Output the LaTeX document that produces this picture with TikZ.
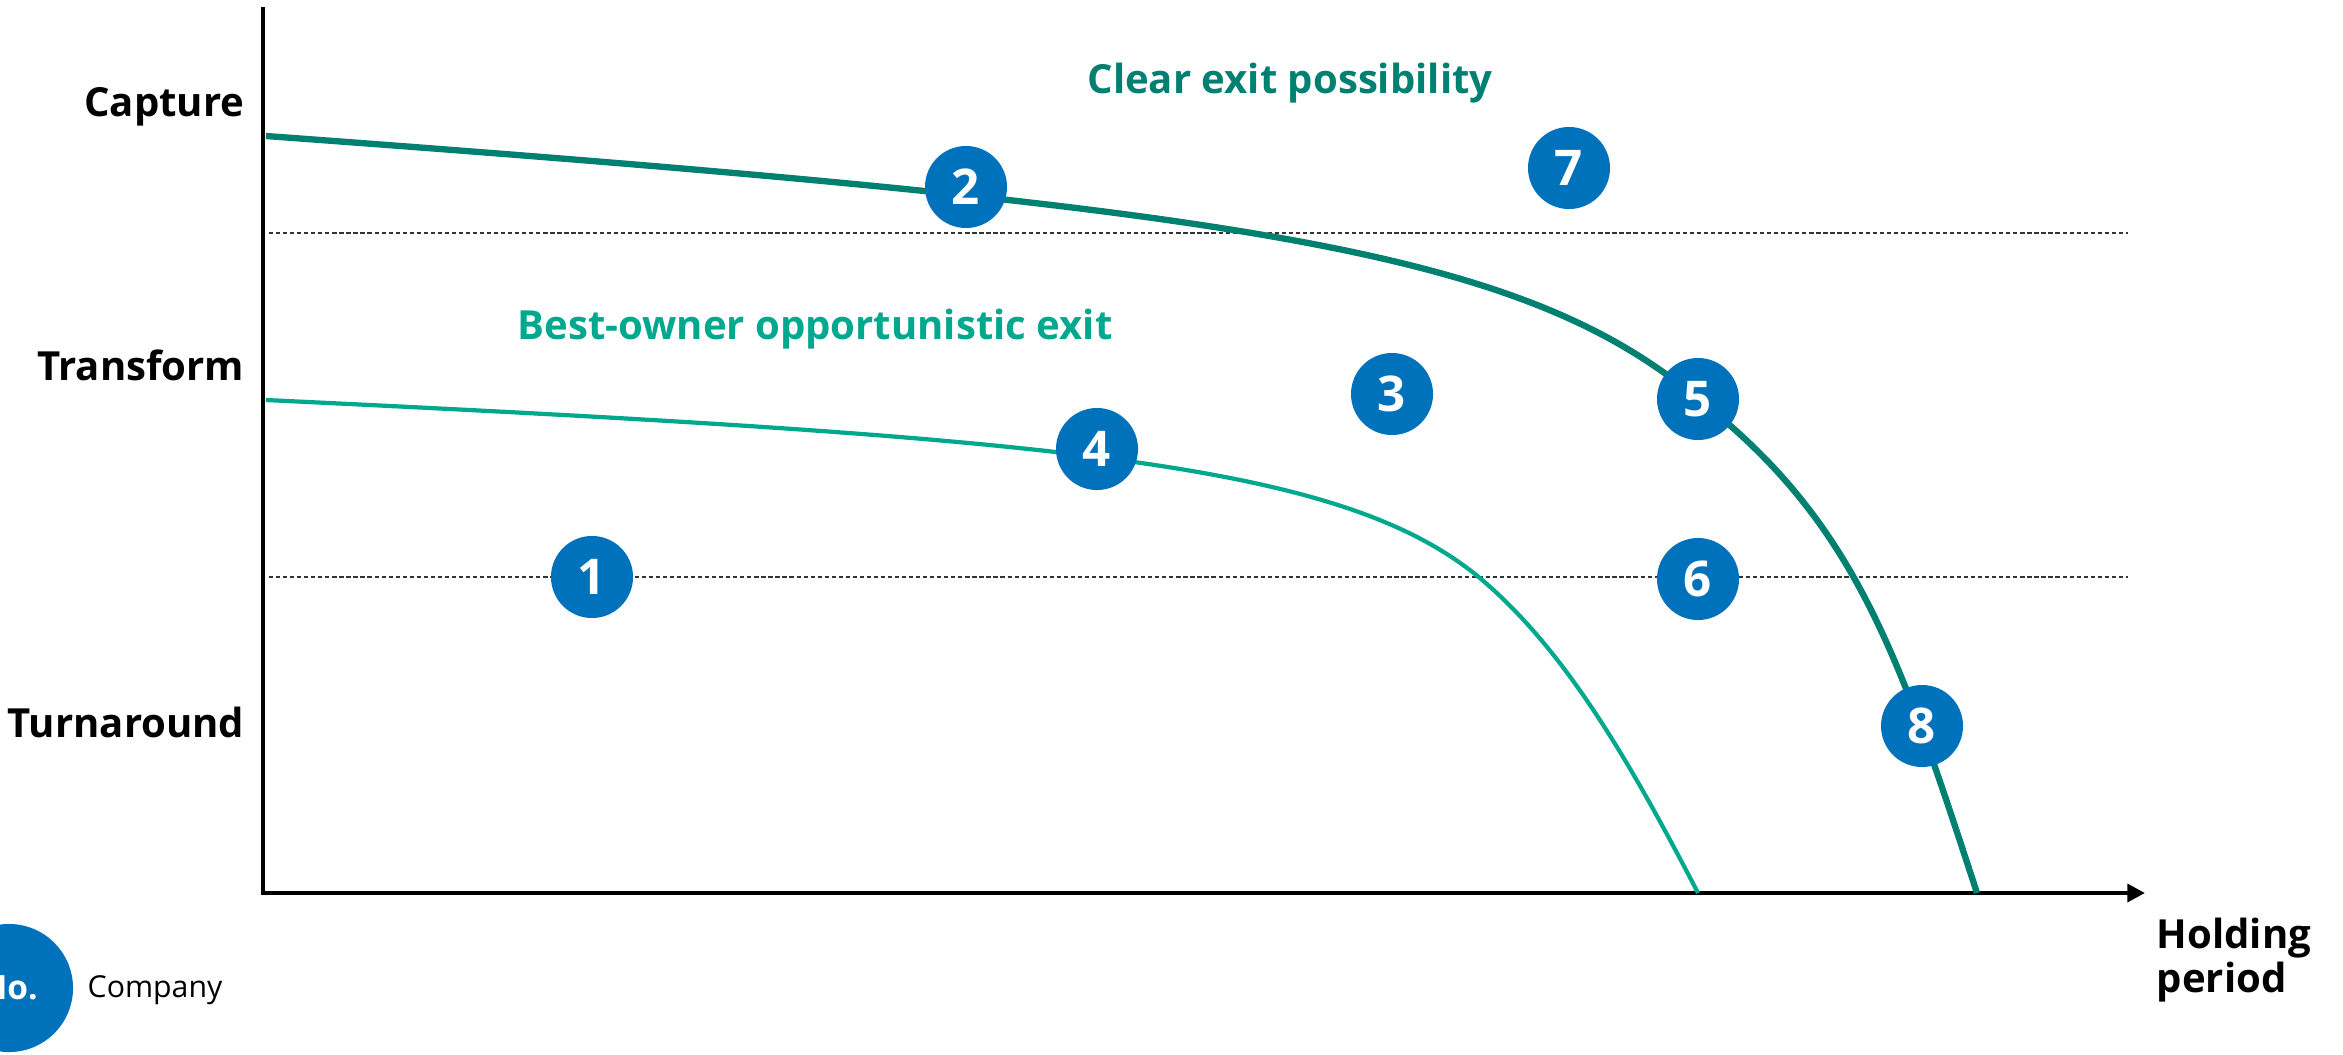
\documentclass[tikz,border=0pt]{standalone}
\usepackage{fontspec}
\setmainfont{Open Sans}
\usetikzlibrary{arrows.meta}
\usetikzlibrary{positioning}

\definecolor{numblue}{RGB}{0,114,188}
\definecolor{darkteal}{RGB}{0,128,112}
\definecolor{lightteal}{RGB}{0,168,142}

\begin{document}
\begin{tikzpicture}[x=0.01cm,y=-0.01cm,
  num node/.style={circle,fill=numblue,text=white,minimum size=0.82cm,inner sep=0pt,
    font=\fontsize{14}{16}\selectfont\bfseries},
  axis label/.style={inner sep=0pt,font=\fontsize{11.4}{14}\selectfont\bfseries},
  zone label/.style={inner sep=0pt,anchor=base,font=\fontsize{11.4}{14}\selectfont\bfseries},
  guide/.style={dash pattern=on 1.2pt off 0.8pt,line width=0.45pt,black!80}]
  \useasboundingbox (0,0) rectangle (2343,1054);

  % axes
  \coordinate (top) at (263,7);
  \coordinate (origin) at (263,893);
  \coordinate (xend) at (2145,893);
  \draw[line width=1.4pt,-{Triangle[length=5pt,width=5pt]}] (top) -- (origin) -- (xend);

  % level guides
  \coordinate (g1a) at (269,233);
  \coordinate (g1b) at (2128,233);
  \coordinate (g2a) at (269,577);
  \coordinate (g2b) at (2128,577);
  \draw[guide] (g1a) -- (g1b);
  \draw[guide] (g2a) -- (g2b);

  % frontiers
  \coordinate (o0) at (266,136);
  \coordinate (o1) at (1698,399);
  \coordinate (o2) at (1977,893);
  \coordinate (i0) at (266,400);
  \coordinate (i1) at (1481,579);
  \coordinate (i2) at (1698,893);
  \draw[darkteal,line width=1.8pt] (o0) .. controls (1250,208) and (1520,250) .. (o1)
    .. controls (1856,522) and (1899,655) .. (o2);
  \draw[lightteal,line width=1.2pt] (i0) .. controls (1066,438) and (1343,463) .. (i1)
    .. controls (1565,650) and (1629,760) .. (i2);

  % axis labels
  \node[axis label,anchor=base east] (capture) at (245,116) {Capture};
  \node[axis label,anchor=base east] (transform) at (245,380) {Transform};
  \node[axis label,anchor=base east] (turnaround) at (245,737) {Turnaround};
  \node[axis label,anchor=base west] (holding) at (2156,948) {Holding};
  \node[axis label,anchor=base west] (period) at (2156,992) {period};

  % zone labels
  \node[zone label,text=darkteal] (clear) at (1290,93) {Clear exit possibility};
  \node[zone label,text=lightteal] (best) at (815,339) {Best-owner opportunistic exit};

  % companies
  \node[num node] (c1) at (592,577) {1};
  \node[num node] (c2) at (966,187) {2};
  \node[num node] (c3) at (1392,394) {3};
  \node[num node] (c4) at (1097,449) {4};
  \node[num node] (c5) at (1698,399) {5};
  \node[num node] (c6) at (1698,579) {6};
  \node[num node] (c7) at (1569,168) {7};
  \node[num node] (c8) at (1922,726) {8};

  % legend
  \node[num node,minimum size=1.28cm,font=\fontsize{9.5}{11}\selectfont\bfseries] (legend) at (9,988) {No.};
  \node[inner sep=0pt,anchor=base west,font=\fontsize{8.6}{11}\selectfont] (company) at (87,997) {Company};
\end{tikzpicture}
\end{document}
